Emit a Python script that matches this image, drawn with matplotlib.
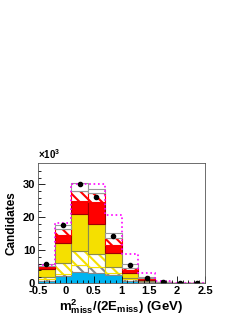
import numpy as np
import matplotlib
matplotlib.use('Agg')
import matplotlib.pyplot as plt

plt.rcParams['font.family'] = ['Liberation Sans', 'DejaVu Sans']
plt.rcParams['font.weight'] = 'bold'
plt.rcParams['mathtext.fontset'] = 'custom'
plt.rcParams['mathtext.rm'] = 'Liberation Sans:bold'
plt.rcParams['mathtext.it'] = 'Liberation Sans:bold'
plt.rcParams['mathtext.bf'] = 'Liberation Sans:bold'
plt.rcParams['hatch.linewidth'] = 1.5

edges = np.array([-0.5, -0.2, 0.1, 0.4, 0.7, 1.0, 1.3, 1.6, 1.9, 2.2, 2.5])

# stacked components (x10^3 candidates per bin), bottom to top
cyan   = [0.8, 2.3, 3.6, 3.3, 2.6, 0.8, 0.3, 0.1, 0.03, 0.02]
thin   = [0.4, 0.5, 2.0, 1.7, 0.7, 0.4, 0.3, 0.1, 0.02, 0.01]
yhatch = [0.8, 3.3, 4.3, 3.8, 1.7, 0.5, 0.2, 0.05, 0.01, 0.0]
yellow = [2.3, 6.2, 11.0, 9.2, 4.3, 1.5, 0.3, 0.05, 0.01, 0.0]
red    = [0.7, 2.3, 4.1, 6.7, 2.3, 0.8, 0.3, 0.05, 0.01, 0.0]
rhatch = [0.4, 1.8, 3.1, 2.6, 2.2, 0.8, 0.2, 0.03, 0.01, 0.0]
grey   = [0.5, 1.2, 2.2, 1.3, 1.6, 1.2, 0.2, 0.02, 0.01, 0.01]

data    = [6.0, 17.6, 30.0, 26.2, 14.4, 5.5, 1.5, 0.3, 0.1, 0.05]
magenta = [5.5, 18.2, 30.1, 30.1, 20.6, 9.0, 3.0, 0.6, 0.2, 0.1]

layers = [
    (cyan,   '#00b4f0', None,     '#00b4f0'),
    (thin,   'white',   '\\\\\\', '#888888'),
    (yhatch, 'white',   '\\\\\\', '#f5e000'),
    (yellow, '#f5e000', None,     '#8a8a50'),
    (red,    '#ff0000', None,     '#a00000'),
    (rhatch, 'white',   '\\\\\\', '#ff0000'),
    (grey,   'white',   None,     '#999999'),
]

fig = plt.figure(figsize=(2.45, 3.17), dpi=100)
ax = fig.add_axes([0.155, 0.106, 0.682, 0.379])

width = np.diff(edges)
bottom = np.zeros(len(width))
for vals, fc, hatch, ec in layers:
    vals = np.array(vals)
    ax.bar(edges[:-1], vals, width=width, bottom=bottom, align='edge',
           color=fc, hatch=hatch, edgecolor=ec, linewidth=0.8)
    bottom = bottom + vals

ax.stairs(magenta, edges, color='#ff00ff', linestyle=':', linewidth=1.2)

centers = 0.5 * (edges[:-1] + edges[1:])
ax.plot(centers, data, 'o', color='black', markersize=3)

ax.set_xlim(-0.5, 2.5)
ax.set_ylim(0, 36.4)
ax.set_xticks([-0.5, 0, 0.5, 1, 1.5, 2, 2.5])
ax.set_xticklabels(['-0.5', '0', '0.5', '1', '1.5', '2', '2.5'])
ax.set_xticks(np.arange(-0.5, 2.51, 0.1), minor=True)
ax.set_yticks([0, 10, 20, 30])
ax.set_yticks(np.arange(0, 36, 2), minor=True)
ax.tick_params(labelsize=8, direction='in', length=5, width=0.6, pad=2)
ax.tick_params(which='minor', direction='in', length=2.5, width=0.6)
for s in ax.spines.values():
    s.set_linewidth(0.6)
    s.set_color('#555555')

ax.set_ylabel('Candidates', fontsize=8.5, fontweight='bold')
ax.set_xlabel(r'm$^{2}_{\rm miss}$/(2E$_{\rm miss}$) (GeV)', fontsize=9.5,
              fontweight='bold', labelpad=1)
ax.text(0.0, 1.02, r'$\times$10$^{3}$', transform=ax.transAxes, fontsize=7,
        ha='left', va='bottom')

fig.savefig('out.png', dpi=100)
